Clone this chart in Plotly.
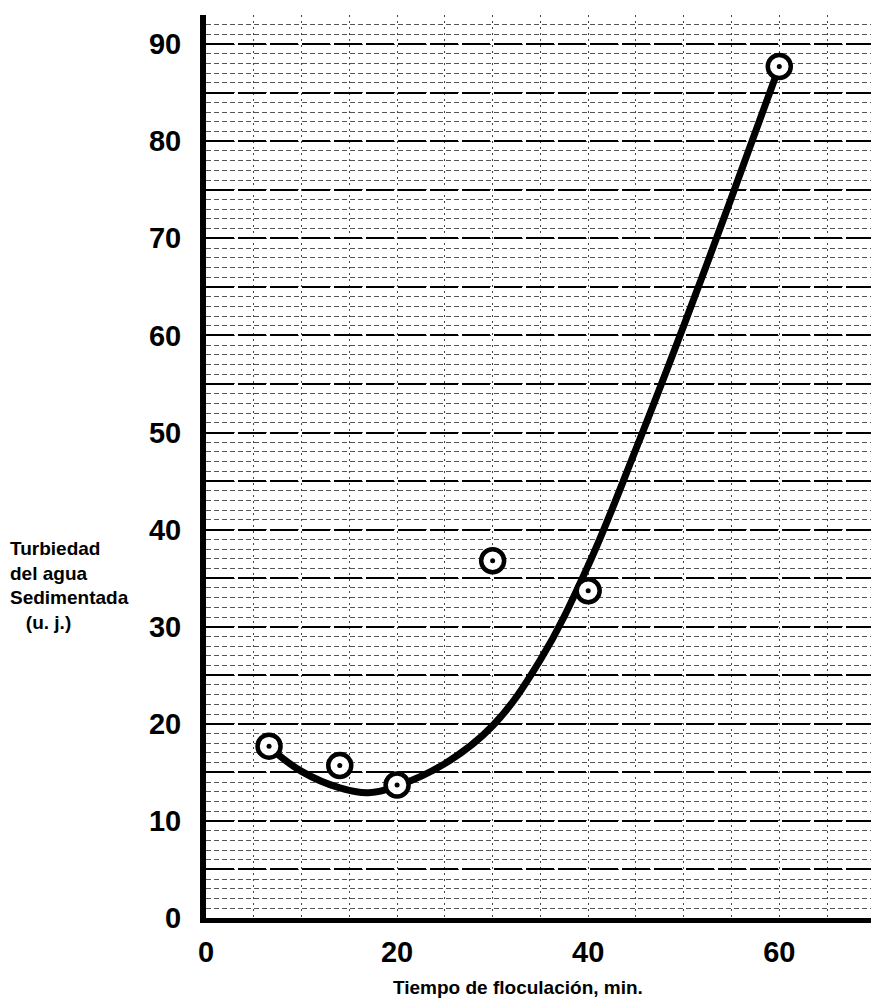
import plotly.graph_objects as go

# Measured points (time, turbidity)
tiempo = [6.6, 14, 20, 30, 40, 60]
turbiedad = [17.7, 15.7, 13.7, 36.8, 33.7, 87.7]

# Hand-drawn fitted curve
curva_x = [6.6, 10, 14, 17, 20, 25, 30, 35, 40, 45, 50, 55, 60]
curva_y = [17.6, 15.1, 13.4, 12.9, 13.6, 15.9, 19.8, 26.6, 36.3, 48.3, 61.0, 74.2, 87.7]

x_ticks = [0, 20, 40, 60]
y_ticks = [0, 5, 10, 15, 20, 25, 30, 35, 40, 45, 50, 55, 60, 65, 70, 75, 80, 85, 90]
y_ticktext = ['0', '', '10', '', '20', '', '30', '', '40', '', '50', '', '60', '', '70', '', '80', '', '90']

FONT = "Liberation Sans, Arial, sans-serif"

fig = go.Figure()
fig.add_trace(go.Scatter(x=curva_x, y=curva_y, mode='lines',
                         line=dict(color='black', width=7, shape='spline', smoothing=1.1),
                         showlegend=False, hoverinfo='skip'))
fig.add_trace(go.Scatter(x=tiempo, y=turbiedad, mode='markers',
                         marker=dict(symbol='circle', size=23, color='white',
                                     line=dict(color='black', width=4.5)),
                         showlegend=False))
fig.add_trace(go.Scatter(x=tiempo, y=turbiedad, mode='markers',
                         marker=dict(symbol='circle', size=5, color='black'),
                         showlegend=False, hoverinfo='skip'))

fig.update_layout(
    width=871, height=1002,
    margin=dict(l=206, r=0, t=15, b=84),
    paper_bgcolor='white', plot_bgcolor='white',
    font=dict(family=FONT, color='black'),
    xaxis=dict(range=[0, 69.6], tickvals=x_ticks, ticktext=[str(v) for v in x_ticks],
               showline=True, linecolor='black', linewidth=5,
               ticks='', zeroline=False,
               showgrid=True, gridcolor='#444', gridwidth=1, griddash='2px,4px',
               minor=dict(dtick=5, showgrid=True, gridcolor='#444', gridwidth=1, griddash='2px,4px'),
               tickfont=dict(size=29, family=FONT, weight='bold'),
               ticklabelstandoff=4),
    yaxis=dict(range=[0, 93.0], tickvals=y_ticks, ticktext=y_ticktext,
               showline=True, linecolor='black', linewidth=6,
               ticks='', zeroline=False,
               showgrid=True, gridcolor='black', gridwidth=2, griddash='28px,4px',
               minor=dict(dtick=1, showgrid=True, gridcolor='#555', gridwidth=1, griddash='5px,3px'),
               tickfont=dict(size=29, family=FONT, weight='bold'),
               ticklabelstandoff=13),
    annotations=[
        dict(text='Turbiedad<br>del agua<br>Sedimentada<br>\u00a0\u00a0\u00a0(u. j.)',
             xref='paper', yref='paper', x=-0.298, y=0.368,
             xanchor='left', yanchor='middle', align='left', showarrow=False,
             font=dict(size=19, family=FONT, weight='bold')),
        dict(text='Tiempo de floculación, min.',
             xref='paper', yref='paper', x=(518 - 206) / 665, y=(918 - 988) / 903,
             xanchor='center', yanchor='middle', showarrow=False,
             font=dict(size=19, family=FONT, weight='bold')),
    ],
)

fig.write_html("out.html")
